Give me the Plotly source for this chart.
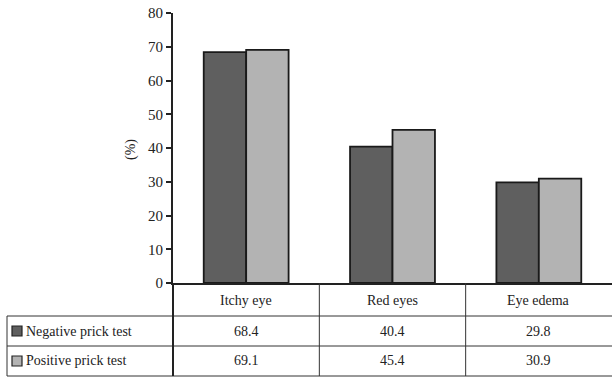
import plotly.graph_objects as go

categories = ["Itchy eye", "Red eyes", "Eye edema"]
series_names = ["Negative prick test", "Positive prick test"]
negative = [68.4, 40.4, 29.8]
positive = [69.1, 45.4, 30.9]
colors = ["#5f5f5f", "#b3b3b3"]
y_ticks = [0, 10, 20, 30, 40, 50, 60, 70, 80]

W, H = 612, 377
ML, MR, MT, MB = 173, 0, 13, 94
PW, PH = W - ML - MR, H - MT - MB
FONT = "Liberation Serif, Times New Roman, serif"

def px_x(p):
    return (p - ML) / PW

def px_y(p):
    return (H - MB - p) / PH

fig = go.Figure()
for name, vals, col in zip(series_names, [negative, positive], colors):
    fig.add_trace(go.Bar(x=categories, y=vals, name=name, marker_color=col,
                         marker_line_color="#1a1a1a", marker_line_width=1.8,
                         showlegend=False))

fig.update_layout(
    width=W, height=H, margin=dict(l=ML, r=MR, t=MT, b=MB),
    paper_bgcolor="white", plot_bgcolor="white",
    barmode="group", bargap=0.42, bargroupgap=0,
    font=dict(family=FONT, size=14, color="#222222"),
    xaxis=dict(showticklabels=False, showline=True, linecolor="#222222", linewidth=2,
               ticks="", showgrid=False, zeroline=False, range=[-0.5, 2.5]),
    yaxis=dict(range=[0, 80], tickvals=y_ticks, showgrid=False, zeroline=False,
               showline=True, linecolor="#222222", linewidth=2,
               ticks="outside", ticklen=5, tickwidth=1.5, tickcolor="#222222",
               tickfont=dict(family=FONT, size=15, color="#222222")),
)

fig.add_annotation(text="(%)", xref="paper", yref="paper", x=px_x(121), y=px_y(150),
                   textangle=-90, showarrow=False, font=dict(size=14))

y_top = H - MB
rows_y = [316, 346, 376]
left_x = 7
line_col = "#333333"

for ry in rows_y:
    fig.add_shape(type="line", xref="paper", yref="paper", x0=px_x(left_x), x1=1,
                  y0=px_y(ry), y1=px_y(ry), line=dict(color=line_col, width=1))
fig.add_shape(type="line", xref="paper", yref="paper", x0=px_x(left_x), x1=px_x(left_x),
              y0=px_y(rows_y[0]), y1=px_y(rows_y[-1]), line=dict(color=line_col, width=1))
fig.add_shape(type="line", xref="paper", yref="paper", x0=0, x1=0,
              y0=0, y1=px_y(rows_y[-1]), line=dict(color="#222222", width=2))
for b in [0.5, 1.5]:
    fig.add_shape(type="line", xref="x", yref="paper", x0=b, x1=b,
                  y0=0, y1=px_y(rows_y[-1]), line=dict(color=line_col, width=1))

for c in categories:
    fig.add_annotation(text=c, x=c, xref="x", yref="paper", y=px_y((y_top + rows_y[0]) / 2 + 1),
                       showarrow=False, font=dict(size=14), yanchor="middle")

row_centers = [(rows_y[0] + rows_y[1]) / 2, (rows_y[1] + rows_y[2]) / 2]
for name, vals, col, rc in zip(series_names, [negative, positive], colors, row_centers):
    fig.add_shape(type="rect", xref="paper", yref="paper",
                  x0=px_x(12), x1=px_x(22), y0=px_y(rc + 5), y1=px_y(rc - 5),
                  fillcolor=col, line=dict(color="#222222", width=1.2))
    fig.add_annotation(text=name, xref="paper", yref="paper", x=px_x(24), y=px_y(rc),
                       xanchor="left", yanchor="middle", showarrow=False, font=dict(size=14))
    for c, v in zip(categories, vals):
        fig.add_annotation(text=f"{v:.1f}", x=c, xref="x", yref="paper", y=px_y(rc),
                           showarrow=False, font=dict(size=14), yanchor="middle")

fig.write_html("out.html", config={"displayModeBar": False},
               post_script="document.body.style.margin='0';")
